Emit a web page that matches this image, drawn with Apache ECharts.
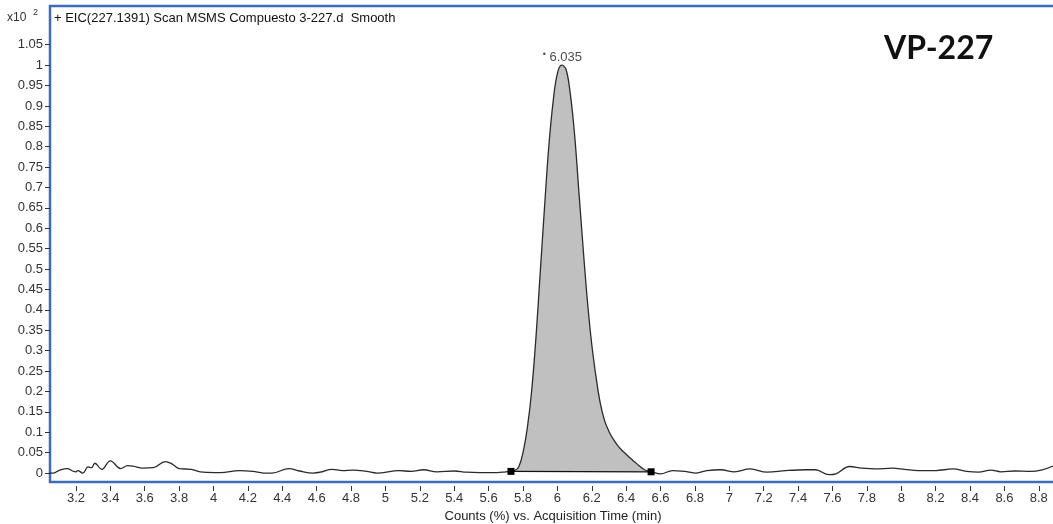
<!DOCTYPE html>
<html>
<head>
<meta charset="utf-8">
<script src="https://cdn.jsdelivr.net/npm/echarts@6/dist/echarts.min.js"></script>
<style>
html,body{margin:0;padding:0;background:#fff;}
#chart{width:1053px;height:524px;}
</style>
</head>
<body>
<div id="chart"></div>
<script>
// Acquisition time (min) of the smoothed EIC trace
const times = [3.04,3.07,3.10,3.15,3.18,3.20,3.21,3.24,3.27,3.29,3.31,3.35,3.40,3.46,3.50,3.53,3.59,3.65,3.72,3.76,3.80,3.87,3.94,4.04,4.15,4.23,4.29,4.34,4.44,4.50,4.58,4.62,4.69,4.75,4.81,4.89,4.95,5.08,5.15,5.22,5.30,5.40,5.47,5.55,5.65,5.70,
  5.725,5.75,5.775,5.80,5.825,5.85,5.875,5.90,5.925,5.95,5.975,6.00,6.025,6.05,6.075,6.10,6.125,6.15,6.175,6.20,6.225,6.25,6.275,6.30,6.325,6.35,6.375,6.40,6.425,6.45,6.475,6.50,6.525,6.55,
  6.60,6.67,6.74,6.80,6.87,6.95,7.03,7.12,7.22,7.33,7.45,7.50,7.58,7.62,7.70,7.77,7.85,7.95,8.02,8.10,8.20,8.30,8.38,8.45,8.52,8.58,8.66,8.75,8.82,8.90];
// Counts (x10^2 %)
const counts = [0.000,0.000,0.006,0.011,0.005,0.003,0.006,0.000,0.015,0.013,0.024,0.009,0.030,0.011,0.018,0.017,0.012,0.013,0.028,0.022,0.011,0.009,0.002,0.001,0.006,0.004,0.000,0.000,0.011,0.005,0.000,0.002,0.009,0.006,0.007,0.004,0.000,0.006,0.004,0.008,0.003,0.005,0.002,0.001,0.001,0.003,
  0.004,0.006,0.015,0.05,0.11,0.20,0.33,0.49,0.65,0.80,0.91,0.98,1.00,0.99,0.93,0.83,0.69,0.55,0.42,0.315,0.235,0.170,0.128,0.102,0.083,0.068,0.056,0.046,0.036,0.027,0.018,0.010,0.005,0.003,
  -0.002,0.006,0.004,0.000,0.006,0.008,0.003,0.010,0.002,0.006,0.008,0.008,-0.004,-0.002,0.016,0.012,0.010,0.012,0.009,0.006,0.006,0.010,0.004,0.002,0.007,0.003,0.005,0.004,0.008,0.020];
// Integrated peak
const peakStart = [5.73, 0.004];
const peakEnd = [6.545, 0.003];
const peakApex = [6.035, 1.0];
const peakLabel = '6.035';
// Tick labels
const xTicks = [3.2,3.4,3.6,3.8,4,4.2,4.4,4.6,4.8,5,5.2,5.4,5.6,5.8,6,6.2,6.4,6.6,6.8,7,7.2,7.4,7.6,7.8,8,8.2,8.4,8.6,8.8];
const yTicks = [0,0.05,0.1,0.15,0.2,0.25,0.3,0.35,0.4,0.45,0.5,0.55,0.6,0.65,0.7,0.75,0.8,0.85,0.9,0.95,1,1.05];
const titleText = '+ EIC(227.1391) Scan MSMS Compuesto 3-227.d  Smooth';
const sampleName = 'VP-227';
const xName = 'Counts (%) vs. Acquisition Time (min)';

const trace = times.map((t, i) => [t, counts[i]]);
const peakArea = trace.filter(p => p[0] >= 5.725 && p[0] <= 6.55);

const FONT = 'Liberation Sans, Arial, sans-serif';
const chart = echarts.init(document.getElementById('chart'));
chart.setOption({
  animation: false,
  backgroundColor: '#fff',
  grid: {left: 50, top: 6, right: -3, bottom: 42, outerBoundsMode: 'none', containLabel: false,
    show: true, borderColor: '#3a6cc6', borderWidth: 2.5, backgroundColor: 'transparent'},
  xAxis: {
    type: 'value', min: 3.049, max: 8.900, offset: 4,
    name: xName, nameLocation: 'middle', nameGap: 23,
    nameTextStyle: {fontFamily: FONT, fontSize: 13, color: '#222'},
    axisLine: {show: false, onZero: false},
    splitLine: {show: false},
    axisTick: {show: true, length: 5, lineStyle: {color: '#333'}, customValues: xTicks},
    axisLabel: {fontFamily: FONT, fontSize: 13, color: '#333', margin: 6, customValues: xTicks, formatter: v => String(v)}
  },
  yAxis: {
    type: 'value', min: -0.022, max: 1.145,
    axisLine: {show: false, onZero: false},
    splitLine: {show: false},
    axisTick: {show: true, length: 5, lineStyle: {color: '#333'}, customValues: yTicks},
    axisLabel: {fontFamily: FONT, fontSize: 13, color: '#333', margin: 7, customValues: yTicks, formatter: v => String(v)}
  },
  graphic: [
    {type: 'text', left: 7, top: 12, style: {text: 'x10', font: '12px ' + FONT, fill: '#333'}},
    {type: 'text', left: 33, top: 8, style: {text: '2', font: '9px ' + FONT, fill: '#333'}},
    {type: 'text', left: 54, top: 12, style: {text: titleText, font: '13px ' + FONT, fill: '#111'}},
    {type: 'text', left: 884, top: 33, style: {text: sampleName, font: 'bold 32px Lato, "Open Sans", sans-serif', fill: '#111'}}
  ],
  series: [
    {
      type: 'line', data: peakArea, smooth: 0.4, symbol: 'none',
      lineStyle: {width: 0}, areaStyle: {color: '#c0c0c0', opacity: 1, origin: 0.003}, z: 1
    },
    {
      type: 'line', data: trace, smooth: 0.4, symbol: 'none',
      lineStyle: {color: '#2a2a2a', width: 1.3}, z: 3
    },
    {
      type: 'line', data: [peakStart, peakEnd], symbol: 'rect', symbolSize: 7,
      itemStyle: {color: '#000'}, lineStyle: {color: '#111', width: 1.3}, z: 4
    },
    {
      type: 'scatter', data: [peakApex], symbolSize: 0, z: 5,
      label: {show: true, position: 'top', distance: 0, offset: [-1, 0], fontFamily: FONT, fontSize: 13, color: '#222',
        formatter: '{d|•} ' + peakLabel, rich: {d: {fontSize: 9, verticalAlign: 'top', padding: [0, 0, 6, 0], color: '#222'}}}
    }
  ]
});
</script>
</body>
</html>
